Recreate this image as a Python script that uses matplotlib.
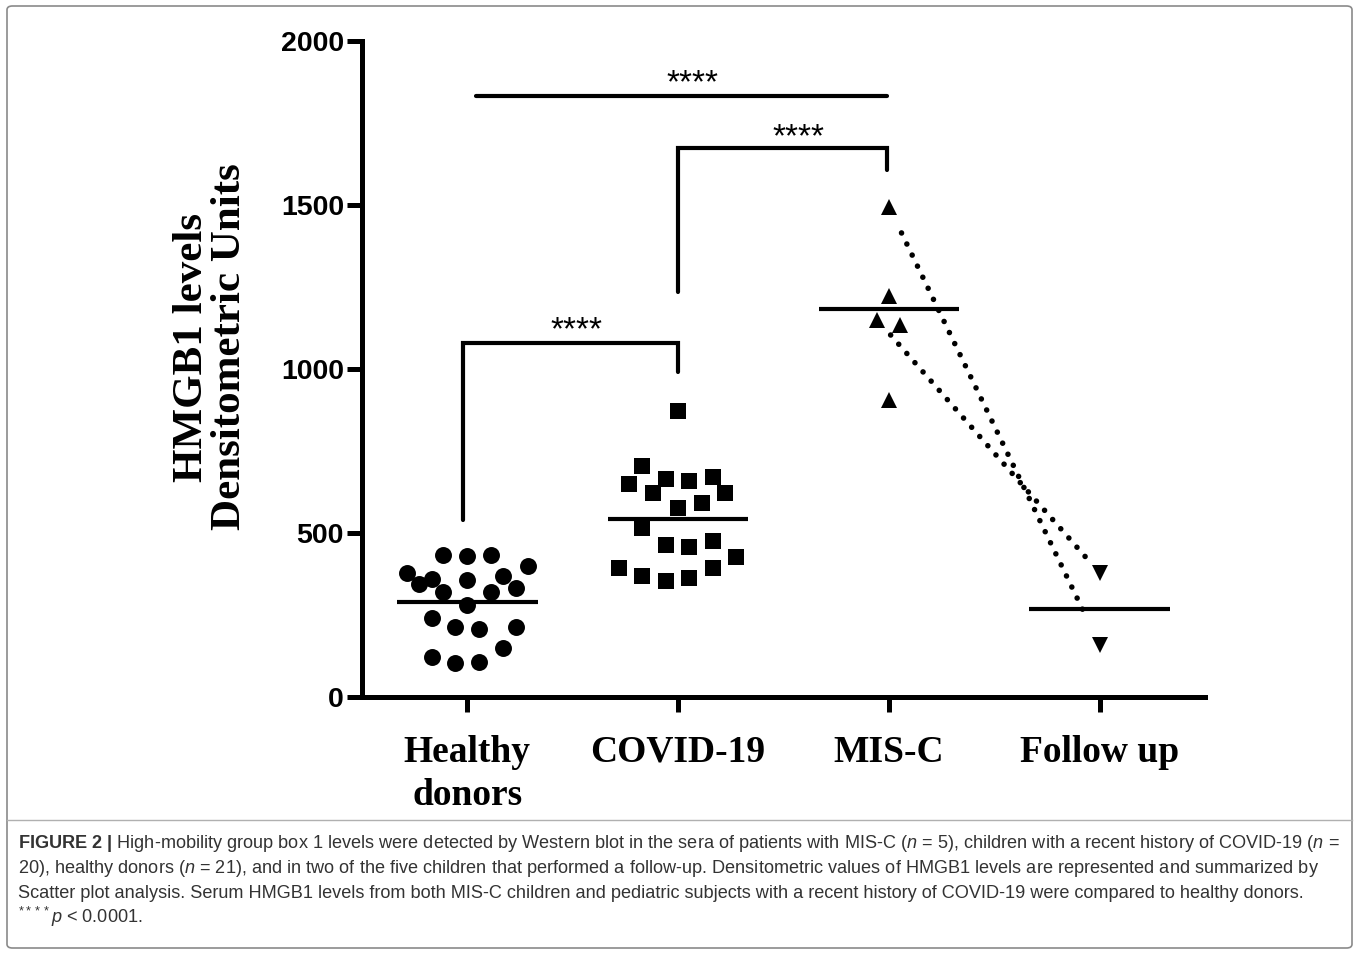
import numpy as np
import matplotlib
matplotlib.use("Agg")
import matplotlib.pyplot as plt
from matplotlib import font_manager
from matplotlib.patches import FancyBboxPatch
from matplotlib.lines import Line2D

# data (densitometric units)
groups = ["Healthy\ndonors", "COVID-19", "MIS-C", "Follow up"]
healthy = [433, 430, 433, 399, 378, 345, 360, 357, 369, 332, 320,
           320, 280, 241, 213, 207, 213, 149, 122, 104, 107]
covid = [872, 704, 649, 665, 659, 671, 622, 622, 576, 591,
         515, 463, 457, 476, 427, 393, 369, 354, 363, 393]
misc = [1495, 1223, 1150, 1134, 906]
follow_up = [378, 159]
# which MIS-C child was followed up (index into misc -> index into follow_up)
pairs = [(0, 1), (2, 0)]
yticks = [0, 500, 1000, 1500, 2000]

# horizontal scatter of the points inside each column
healthy_jit = [-0.114, 0, 0.114, 0.286, -0.286, -0.229, -0.167, 0, 0.171, 0.229, -0.114,
               0.114, 0, -0.167, -0.057, 0.057, 0.229, 0.171, -0.167, -0.057, 0.057]
covid_jit = [0, -0.171, -0.233, -0.057, 0.052, 0.167, -0.119, 0.224, 0, 0.114,
             -0.171, -0.057, 0.052, 0.167, 0.276, -0.281, -0.171, -0.057, 0.052, 0.167]
misc_jit = [0, 0, -0.055, 0.055, 0]
follow_jit = [0, 0]

names = {f.name for f in font_manager.fontManager.ttflist}
cap_font = "Liberation Sans Narrow" if "Liberation Sans Narrow" in names else "Liberation Sans"
plt.rcParams["mathtext.fontset"] = "custom"
plt.rcParams["mathtext.rm"] = cap_font
plt.rcParams["mathtext.it"] = cap_font + ":italic"
plt.rcParams["mathtext.bf"] = cap_font + ":bold"

W, H = 1357, 955
fig = plt.figure(figsize=(W / 100, H / 100), dpi=100)
ax = fig.add_axes([362 / W, 1 - 697 / H, 843 / W, 656 / H])

series = [(healthy, healthy_jit, "o", 12.2),
          (covid, covid_jit, "s", 11.5),
          (misc, misc_jit, "^", 11),
          (follow_up, follow_jit, "v", 11)]
for i, (vals, jit, mk, ms) in enumerate(series):
    xs = i + np.array(jit)
    ax.plot(xs, vals, ls="none", marker=mk, ms=ms, color="black", mew=0, zorder=3)
    ax.hlines(np.mean(vals), i - 0.333, i + 0.333, color="black", lw=3, zorder=4)

# before/after lines for the two followed-up children
for a, b in pairs:
    x0, y0 = 2 + misc_jit[a], misc[a]
    x1, y1 = 3 + follow_jit[b], follow_up[b]
    t = np.array([0.06, 0.94])
    ax.plot(x0 + t * (x1 - x0), y0 + t * (y1 - y0), color="black", lw=4,
            ls=(0, (0.01, 2.2)), dash_capstyle="round", zorder=2)

# significance brackets
bk = dict(color="black", lw=3, solid_capstyle="round", solid_joinstyle="miter", clip_on=False)
ax.plot([-0.02, -0.02, 1.0, 1.0], [540, 1080, 1080, 990], **bk)
ax.plot([1.0, 1.0, 1.99, 1.99], [1235, 1674, 1674, 1607], **bk)
ax.plot([0.04, 1.99], [1832, 1832], **bk)
star = dict(ha="center", va="baseline", fontsize=24, family="Liberation Sans")
ax.text(0.52, 1090, "****", **star)
ax.text(1.57, 1680, "****", **star)
ax.text(1.07, 1845, "****", **star)

ax.set_xlim(-0.5, 3.5)
ax.set_ylim(0, 2000)
ax.set_yticks(yticks)
ax.set_xticks(range(len(groups)))
ax.set_xticklabels(groups, family="Liberation Serif", fontweight="bold",
                   fontsize=27, linespacing=1.3)
ax.set_yticklabels([str(v) for v in yticks], family="Liberation Sans",
                   fontweight="bold", fontsize=20.5)
for s in ["top", "right"]:
    ax.spines[s].set_visible(False)
for s in ["left", "bottom"]:
    ax.spines[s].set_linewidth(3.6)
ax.tick_params(axis="both", width=3.6, length=11, direction="out")
ax.tick_params(axis="x", pad=16)
ax.tick_params(axis="y", pad=2)

fig.text(211 / W, 1 - 347 / H, "HMGB1 levels\nDensitometric Units", rotation=90,
         ha="center", va="center", multialignment="center", linespacing=1.0,
         family="Liberation Serif", fontweight="bold", fontsize=31)

# frame and caption
fig.patches.append(FancyBboxPatch((7 / W, 1 - 948 / H), 1345 / W, 942 / H,
                                  boxstyle="round,pad=0,rounding_size=0.004",
                                  transform=fig.transFigure, fill=False,
                                  ec="#8a8a8a", lw=1.2))
fig.add_artist(Line2D([7 / W, 1352 / W], [1 - 820 / H] * 2, transform=fig.transFigure,
                      color="#b0b0b0", lw=1))

caption = [
    r"$\mathbf{FIGURE\ 2\ |}$ High-mobility group box 1 levels were detected by Western blot in the sera of patients with MIS-C ($n$ = 5), children with a recent history of COVID-19 ($n$ =",
    r"20), healthy donors ($n$ = 21), and in two of the five children that performed a follow-up. Densitometric values of HMGB1 levels are represented and summarized by",
    "Scatter plot analysis. Serum HMGB1 levels from both MIS-C children and pediatric subjects with a recent history of COVID-19 were compared to healthy donors.",
    r"$^{****}$$p$ < 0.0001.",
]
for k, line in enumerate(caption):
    fig.text(18 / W, 1 - (848 + 25 * k) / H, line, ha="left", va="baseline",
             family=cap_font, fontsize=13.1, color="#333333")

fig.savefig("out.png", dpi=100)
